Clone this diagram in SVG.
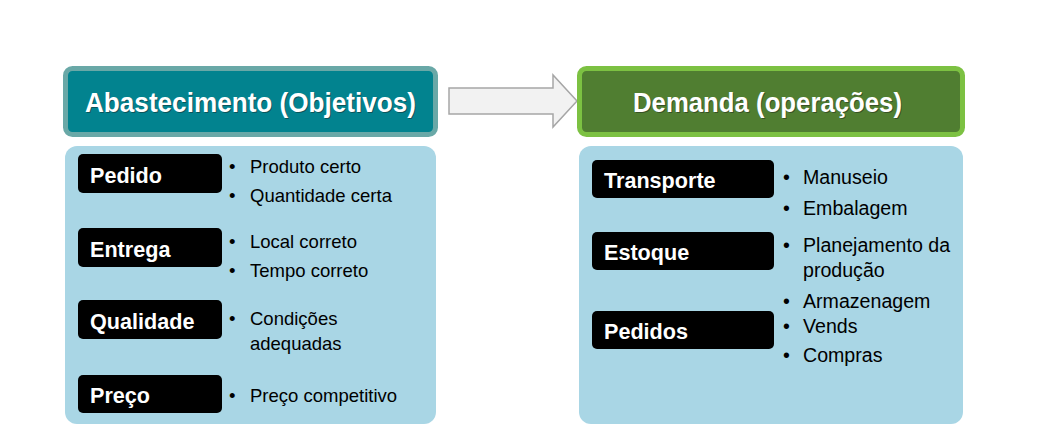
<svg xmlns="http://www.w3.org/2000/svg" width="1045" height="448" viewBox="0 0 1045 448">
<style>
.hdr{font-family:"Liberation Sans",Arial,sans-serif;font-weight:bold;font-size:27px;fill:#ffffff;text-anchor:middle}
.shadow{fill:#1a1a1a;fill-opacity:0.45}
.lbl{font-family:"Liberation Sans",Arial,sans-serif;font-weight:bold;font-size:21.6px;fill:#ffffff}
.lblbox{fill:#000000}
.body{fill:#A9D6E5}
.bl{font-family:"Liberation Sans",Arial,sans-serif;font-size:18.5px;fill:#000000}
.br{font-family:"Liberation Sans",Arial,sans-serif;font-size:19.6px;fill:#000000}
</style>
<rect width="1045" height="448" fill="#ffffff"/>

<g id="header-left">
<rect x="65.5" y="68.5" width="370" height="66" rx="7" fill="#02838F" stroke="#69A8A7" stroke-width="5"/>
<text class="hdr shadow" x="251.5" y="112.5" textLength="331" lengthAdjust="spacingAndGlyphs">Abastecimento (Objetivos)</text>
<text class="hdr" x="250.5" y="111.5" textLength="331" lengthAdjust="spacingAndGlyphs">Abastecimento (Objetivos)</text>
</g>

<g id="connectors">
<polygon points="449,88 553,88 553,75 577,101 553,127 553,114 449,114" fill="#F2F2F2" stroke="#A6A6A6" stroke-width="1.5"/>
</g>

<g id="header-right">
<rect x="579.5" y="68.5" width="383" height="66" rx="7" fill="#507E31" stroke="#7CC142" stroke-width="5"/>
<text class="hdr shadow" x="768.5" y="113" textLength="269" lengthAdjust="spacingAndGlyphs">Demanda (operações)</text>
<text class="hdr" x="767.5" y="112" textLength="269" lengthAdjust="spacingAndGlyphs">Demanda (operações)</text>
</g>

<g id="body-left">
<rect class="body" x="65" y="146" width="371" height="278" rx="12"/>
</g>
<g id="body-right">
<rect class="body" x="579" y="146" width="384" height="278" rx="12"/>
</g>

<g id="pedido">
<rect class="lblbox" x="78" y="154" width="144" height="39" rx="5"/>
<text class="lbl" x="90" y="183">Pedido</text>
<text class="bl" x="229" y="173">•</text>
<text class="bl" x="250" y="173">Produto certo</text>
<text class="bl" x="229" y="202">•</text>
<text class="bl" x="250" y="202">Quantidade certa</text>
</g>

<g id="entrega">
<rect class="lblbox" x="78" y="228" width="144" height="39" rx="5"/>
<text class="lbl" x="90" y="257">Entrega</text>
<text class="bl" x="229" y="248">•</text>
<text class="bl" x="250" y="248">Local correto</text>
<text class="bl" x="229" y="277">•</text>
<text class="bl" x="250" y="277">Tempo correto</text>
</g>

<g id="qualidade">
<rect class="lblbox" x="78" y="300" width="144" height="39" rx="5"/>
<text class="lbl" x="90" y="329">Qualidade</text>
<text class="bl" x="229" y="325">•</text>
<text class="bl" x="250" y="325">Condições</text>
<text class="bl" x="250" y="350">adequadas</text>
</g>

<g id="preco">
<rect class="lblbox" x="78" y="375" width="144" height="38" rx="5"/>
<text class="lbl" x="90" y="403">Preço</text>
<text class="bl" x="229" y="402">•</text>
<text class="bl" x="250" y="402">Preço competitivo</text>
</g>

<g id="transporte">
<rect class="lblbox" x="592" y="160" width="182" height="38" rx="5"/>
<text class="lbl" x="604" y="188">Transporte</text>
<text class="br" x="783" y="184">•</text>
<text class="br" x="803" y="184">Manuseio</text>
<text class="br" x="783" y="215">•</text>
<text class="br" x="803" y="215">Embalagem</text>
</g>

<g id="estoque">
<rect class="lblbox" x="592" y="232" width="182" height="38" rx="5"/>
<text class="lbl" x="604" y="260">Estoque</text>
<text class="br" x="783" y="252">•</text>
<text class="br" x="803" y="252">Planejamento da</text>
<text class="br" x="803" y="277">produção</text>
</g>

<g id="pedidos">
<rect class="lblbox" x="592" y="311" width="182" height="38" rx="5"/>
<text class="lbl" x="604" y="339">Pedidos</text>
<text class="br" x="783" y="308">•</text>
<text class="br" x="803" y="308">Armazenagem</text>
<text class="br" x="783" y="333">•</text>
<text class="br" x="803" y="333">Vends</text>
<text class="br" x="783" y="362">•</text>
<text class="br" x="803" y="362">Compras</text>
</g>
</svg>
